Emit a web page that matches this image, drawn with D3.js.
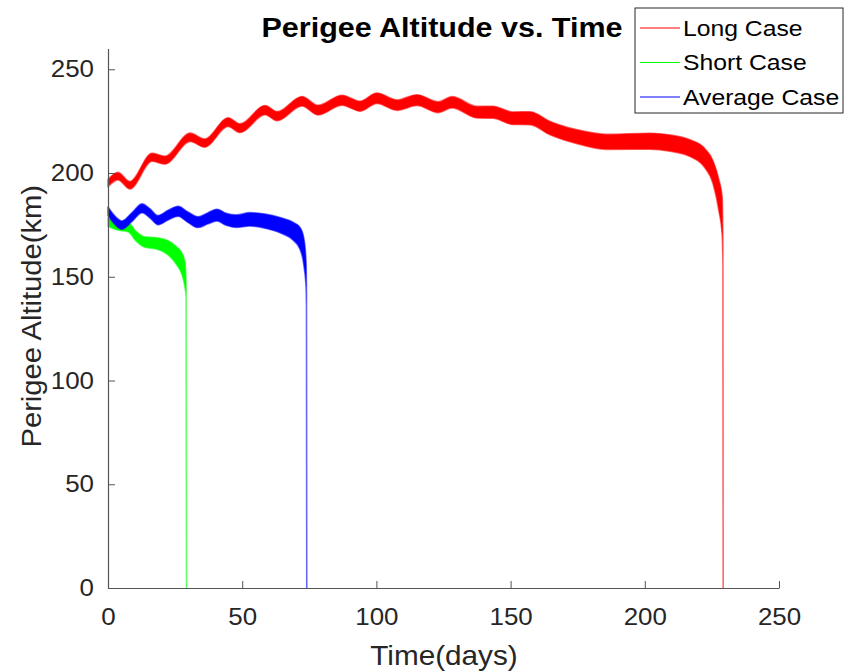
<!DOCTYPE html>
<html>
<head>
<meta charset="utf-8">
<script src="https://cdn.jsdelivr.net/npm/d3@7"></script>
<style>
  body { margin: 0; background: #fff; }
  svg { display: block; font-family: "Liberation Sans", Arial, Helvetica, sans-serif; }
</style>
</head>
<body>
<svg id="chart" width="849" height="672"></svg>
<script>
// Series labels + colours
const seriesNames = ['Long Case', 'Short Case', 'Average Case'];
const seriesColors = ['#ff0000', '#00ff00', '#0000ff'];

// Long case: time (days), mean perigee altitude (km), half width of the fast oscillation (km)
const longT    = [0, 3.7, 8.2, 16.4, 21.2, 30.6, 36.1, 44.7, 49.2, 58.5, 63.0, 72.3, 78.2, 87.2, 93.9, 100.2, 107.7, 115.1, 123.0, 128.2, 137.5, 143.4, 150.9, 157.2, 164.7, 177.0, 185.9, 201.9, 209.4, 216.8, 222.4, 225.4, 227.6, 228.8, 229.1, 229.2];
const longAlt  = [195.1, 198.5, 194.1, 207.6, 206.2, 217.2, 214.4, 224.5, 221.6, 230.3, 227.4, 234.6, 230.3, 235.1, 232.2, 236.0, 232.7, 235.1, 231.7, 234.1, 229.3, 229.3, 226.4, 226.4, 221.6, 216.8, 215.0, 215.3, 214.4, 212.0, 207.1, 200.4, 189.3, 179.7, 160, 0];
const longBand = [1.7, 1.8, 1.8, 1.9, 1.9, 2.0, 2.0, 2.1, 2.1, 2.2, 2.2, 2.3, 2.3, 2.4, 2.4, 2.5, 2.5, 2.6, 2.6, 2.7, 2.8, 2.9, 3.0, 3.1, 3.2, 3.4, 3.6, 3.8, 3.9, 4.0, 4.6, 5.5, 7.5, 9, 3, 0];

// Short case
const shortT    = [0, 1.9, 4.5, 7.5, 10.4, 13.8, 17.5, 20.5, 23.1, 25.7, 27.6, 28.7, 29.1, 29.25];
const shortAlt  = [176.3, 175.3, 174.4, 173.9, 169.6, 166.7, 166.2, 165.2, 163.3, 159.9, 156.1, 150.8, 143.5, 0];
const shortBand = [2.0, 2.0, 2.1, 2.2, 2.3, 2.5, 2.7, 3.0, 3.6, 4.3, 5.2, 6.0, 3.0, 0];

// Average case
const avgT    = [0, 1.9, 5.2, 8.9, 12.7, 15.6, 18.6, 22.4, 26.1, 29.8, 33.5, 37.3, 40.6, 44.0, 47.7, 52.9, 58.5, 64.1, 68.9, 71.5, 73.0, 73.8, 73.95, 74.05];
const avgAlt  = [181.6, 178.2, 174.9, 178.7, 183.0, 180.6, 177.3, 179.7, 181.6, 178.7, 176.3, 178.2, 179.7, 177.7, 176.8, 177.7, 176.8, 174.9, 172.0, 168.6, 161.8, 150.8, 138.7, 0];
const avgBand = [2.0, 2.0, 2.0, 2.1, 2.1, 2.2, 2.2, 2.3, 2.4, 2.5, 2.6, 2.7, 2.8, 2.9, 3.0, 3.2, 3.4, 3.7, 4.3, 5.2, 6.5, 6.0, 3.0, 0];

// Axis ticks
const xTicks = [0, 50, 100, 150, 200, 250];
const yTicks = [0, 50, 100, 150, 200, 250];

const width = 849;
const height = 672;
const margin = { top: 48.5, right: 70, bottom: 84, left: 108 };

const svg = d3.select('#chart');

const x = d3.scaleLinear().domain([0, 250]).range([margin.left, width - margin.right]);
const y = d3.scaleLinear().domain([0, 260]).range([height - margin.bottom, margin.top]);

// zip the arrays into point objects
function makeSeries(t, alt, band) {
    return t.map((d, i) => ({ t: d, v: alt[i], h: band[i] }));
}
const series = [
    makeSeries(longT, longAlt, longBand),
    makeSeries(shortT, shortAlt, shortBand),
    makeSeries(avgT, avgAlt, avgBand)
];

// the matlab font renders a bit wider than Liberation Sans, so widen text a little
function widen(sel, k) {
    sel.each(function() {
        const t = d3.select(this);
        const tx = +t.attr('x') || 0;
        const ty = +t.attr('y') || 0;
        const prev = t.attr('transform') || '';
        t.attr('x', 0).attr('y', 0)
         .attr('transform', `${prev} translate(${tx},${ty}) scale(${k},1)`);
    });
}

const area = d3.area()
    .curve(d3.curveMonotoneX)
    .x(d => x(d.t))
    .y0(d => y(d.v - d.h))
    .y1(d => y(d.v + d.h));

// bands
svg.append('g')
    .selectAll('path')
    .data(series)
    .join('path')
    .attr('d', area)
    .attr('fill', (d, i) => seriesColors[i])
    .attr('stroke', (d, i) => seriesColors[i])
    .attr('stroke-opacity', 0.6)
    .attr('stroke-width', 1.6)
    .attr('stroke-linejoin', 'round');

// axes (MATLAB style: ticks inside, no box)
const axisColor = '#262626';
const xAxis = svg.append('g')
    .attr('transform', `translate(0,${y(0)})`)
    .call(d3.axisBottom(x).tickValues(xTicks).tickSizeInner(-7).tickSizeOuter(0).tickPadding(20));
const yAxis = svg.append('g')
    .attr('transform', `translate(${x(0)},0)`)
    .call(d3.axisLeft(y).tickValues(yTicks).tickSizeInner(-7).tickSizeOuter(0).tickPadding(14));

[xAxis, yAxis].forEach(a => {
    a.select('.domain').attr('stroke', '#555').attr('stroke-width', 1.2);
    a.selectAll('.tick line').attr('stroke', '#555');
    a.selectAll('.tick text')
        .attr('fill', axisColor)
        .style('font-size', '24px')
        .style('font-family', '"Liberation Sans", Arial, sans-serif')
        .call(widen, 1.08);
});

// title + labels
svg.append('text')
    .attr('x', 442)
    .attr('y', 37)
    .attr('text-anchor', 'middle')
    .attr('font-weight', 'bold')
    .attr('font-size', 28)
    .attr('fill', '#000')
    .text('Perigee Altitude vs. Time')
    .call(widen, 1.09);

svg.append('text')
    .attr('x', 444)
    .attr('y', 665)
    .attr('text-anchor', 'middle')
    .attr('font-size', 27)
    .attr('fill', axisColor)
    .text('Time(days)')
    .call(widen, 1.1);

svg.append('text')
    .attr('transform', `translate(41,${(y(0) + y(260)) / 2 - 2}) rotate(-90)`)
    .attr('text-anchor', 'middle')
    .attr('font-size', 27)
    .attr('fill', axisColor)
    .text('Perigee Altitude(km)')
    .call(widen, 1.08);

// legend
const legend = svg.append('g').attr('transform', 'translate(635,8)');
legend.append('rect')
    .attr('width', 208)
    .attr('height', 105)
    .attr('fill', '#fff')
    .attr('stroke', axisColor)
    .attr('stroke-width', 1);

const items = legend.selectAll('g.item')
    .data(seriesNames)
    .join('g')
    .attr('class', 'item')
    .attr('transform', (d, i) => `translate(0,${20 + i * 34.5})`);

items.append('line')
    .attr('x1', 5).attr('x2', 45)
    .attr('stroke', (d, i) => seriesColors[i])
    .attr('stroke-width', 1.2);

items.append('text')
    .attr('x', 48)
    .attr('dy', '0.35em')
    .attr('font-size', 21.5)
    .attr('fill', '#000')
    .text(d => d)
    .call(widen, 1.15);
</script>
</body>
</html>
